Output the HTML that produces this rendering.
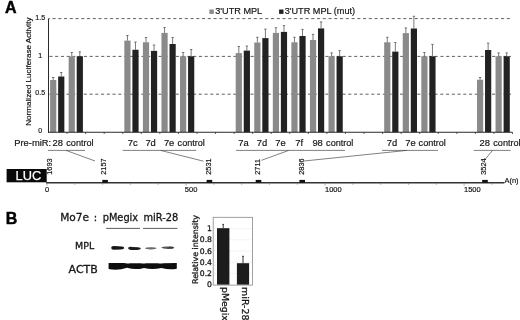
<!DOCTYPE html>
<html lang="en"><head><meta charset="utf-8"><title>Figure</title>
<style>html,body{margin:0;padding:0;background:#fff}svg{display:block;filter:blur(0.35px)}text{font-family:"Liberation Sans",Arial,sans-serif;fill:#151515;stroke:#151515;stroke-width:0.18px}.dv{font-family:"DejaVu Sans","Liberation Sans",sans-serif;stroke-width:0.28px}</style></head><body>
<svg width="520" height="320" viewBox="0 0 520 320">
<defs><filter id="b1" x="-20%" y="-100%" width="140%" height="300%"><feGaussianBlur stdDeviation="0.6"/></filter><filter id="b2" x="-20%" y="-100%" width="140%" height="300%"><feGaussianBlur stdDeviation="0.5"/></filter></defs>
<rect width="520" height="320" fill="#fff"/>
<text x="5.1" y="13.4" font-size="16" font-weight="bold" fill="#000" style="fill:#000;stroke:#000;stroke-width:0.45px">A</text>
<text x="5.7" y="223.9" font-size="16" font-weight="bold" fill="#000" style="fill:#000;stroke:#000;stroke-width:0.45px">B</text>
<line x1="48.5" y1="18.6" x2="511" y2="18.6" stroke="#3a3a3a" stroke-width="0.8" stroke-dasharray="3.1 2.65" stroke-dashoffset="1.75"/>
<line x1="48.5" y1="56.4" x2="511" y2="56.4" stroke="#3a3a3a" stroke-width="0.8" stroke-dasharray="3.1 2.65" stroke-dashoffset="4.85"/>
<line x1="48.5" y1="94.2" x2="511" y2="94.2" stroke="#3a3a3a" stroke-width="0.8" stroke-dasharray="3.1 2.65" stroke-dashoffset="5.0"/>
<rect x="50.10" y="80" width="6.2" height="52.25" fill="#8a8a8a"/>
<path d="M53.20 80V77.5M52.00 77.5H54.40" stroke="#585858" stroke-width="0.8" fill="none"/>
<rect x="58.15" y="76.5" width="6.2" height="55.75" fill="#222222"/>
<path d="M61.25 76.5V72.5M60.05 72.5H62.45" stroke="#585858" stroke-width="0.8" fill="none"/>
<rect x="68.66" y="56.25" width="6.2" height="76.00" fill="#8a8a8a"/>
<path d="M71.76 56.25V52.5M70.56 52.5H72.96" stroke="#585858" stroke-width="0.8" fill="none"/>
<rect x="76.71" y="56.25" width="6.2" height="76.00" fill="#222222"/>
<path d="M79.81 56.25V51.9M78.61 51.9H81.01" stroke="#585858" stroke-width="0.8" fill="none"/>
<rect x="124.34" y="40.6" width="6.2" height="91.65" fill="#8a8a8a"/>
<path d="M127.44 40.6V35.5M126.24 35.5H128.64" stroke="#585858" stroke-width="0.8" fill="none"/>
<rect x="132.39" y="49.75" width="6.2" height="82.50" fill="#222222"/>
<path d="M135.49 49.75V42M134.29 42H136.69" stroke="#585858" stroke-width="0.8" fill="none"/>
<rect x="142.90" y="42.25" width="6.2" height="90.00" fill="#8a8a8a"/>
<path d="M146.00 42.25V37.5M144.80 37.5H147.20" stroke="#585858" stroke-width="0.8" fill="none"/>
<rect x="150.95" y="50.9" width="6.2" height="81.35" fill="#222222"/>
<path d="M154.05 50.9V45M152.85 45H155.25" stroke="#585858" stroke-width="0.8" fill="none"/>
<rect x="161.46" y="32.9" width="6.2" height="99.35" fill="#8a8a8a"/>
<path d="M164.56 32.9V27.5M163.36 27.5H165.76" stroke="#585858" stroke-width="0.8" fill="none"/>
<rect x="169.51" y="44" width="6.2" height="88.25" fill="#222222"/>
<path d="M172.61 44V37.5M171.41 37.5H173.81" stroke="#585858" stroke-width="0.8" fill="none"/>
<rect x="180.02" y="56.25" width="6.2" height="76.00" fill="#8a8a8a"/>
<path d="M183.12 56.25V52.5M181.92 52.5H184.32" stroke="#585858" stroke-width="0.8" fill="none"/>
<rect x="188.07" y="56.25" width="6.2" height="76.00" fill="#222222"/>
<path d="M191.17 56.25V49.5M189.97 49.5H192.37" stroke="#585858" stroke-width="0.8" fill="none"/>
<rect x="235.70" y="53.1" width="6.2" height="79.15" fill="#8a8a8a"/>
<path d="M238.80 53.1V46.5M237.60 46.5H240.00" stroke="#585858" stroke-width="0.8" fill="none"/>
<rect x="243.75" y="50.6" width="6.2" height="81.65" fill="#222222"/>
<path d="M246.85 50.6V46M245.65 46H248.05" stroke="#585858" stroke-width="0.8" fill="none"/>
<rect x="254.26" y="42.5" width="6.2" height="89.75" fill="#8a8a8a"/>
<path d="M257.36 42.5V37.25M256.16 37.25H258.56" stroke="#585858" stroke-width="0.8" fill="none"/>
<rect x="262.31" y="38.1" width="6.2" height="94.15" fill="#222222"/>
<path d="M265.41 38.1V29.1M264.21 29.1H266.61" stroke="#585858" stroke-width="0.8" fill="none"/>
<rect x="272.82" y="32.9" width="6.2" height="99.35" fill="#8a8a8a"/>
<path d="M275.92 32.9V27.75M274.72 27.75H277.12" stroke="#585858" stroke-width="0.8" fill="none"/>
<rect x="280.87" y="31.9" width="6.2" height="100.35" fill="#222222"/>
<path d="M283.97 31.9V25.6M282.77 25.6H285.17" stroke="#585858" stroke-width="0.8" fill="none"/>
<rect x="291.38" y="42.25" width="6.2" height="90.00" fill="#8a8a8a"/>
<path d="M294.48 42.25V37.25M293.28 37.25H295.68" stroke="#585858" stroke-width="0.8" fill="none"/>
<rect x="299.43" y="36" width="6.2" height="96.25" fill="#222222"/>
<path d="M302.53 36V29.4M301.33 29.4H303.73" stroke="#585858" stroke-width="0.8" fill="none"/>
<rect x="309.94" y="40" width="6.2" height="92.25" fill="#8a8a8a"/>
<path d="M313.04 40V34.4M311.84 34.4H314.24" stroke="#585858" stroke-width="0.8" fill="none"/>
<rect x="317.99" y="28.4" width="6.2" height="103.85" fill="#222222"/>
<path d="M321.09 28.4V21.9M319.89 21.9H322.29" stroke="#585858" stroke-width="0.8" fill="none"/>
<rect x="328.50" y="56.25" width="6.2" height="76.00" fill="#8a8a8a"/>
<path d="M331.60 56.25V52.9M330.40 52.9H332.80" stroke="#585858" stroke-width="0.8" fill="none"/>
<rect x="336.55" y="56.25" width="6.2" height="76.00" fill="#222222"/>
<path d="M339.65 56.25V50.6M338.45 50.6H340.85" stroke="#585858" stroke-width="0.8" fill="none"/>
<rect x="384.18" y="42.25" width="6.2" height="90.00" fill="#8a8a8a"/>
<path d="M387.28 42.25V37.25M386.08 37.25H388.48" stroke="#585858" stroke-width="0.8" fill="none"/>
<rect x="392.23" y="51.6" width="6.2" height="80.65" fill="#222222"/>
<path d="M395.33 51.6V42.5M394.13 42.5H396.53" stroke="#585858" stroke-width="0.8" fill="none"/>
<rect x="402.74" y="33.1" width="6.2" height="99.15" fill="#8a8a8a"/>
<path d="M405.84 33.1V27.9M404.64 27.9H407.04" stroke="#585858" stroke-width="0.8" fill="none"/>
<rect x="410.79" y="28.5" width="6.2" height="103.75" fill="#222222"/>
<path d="M413.89 28.5V16.25M412.69 16.25H415.09" stroke="#585858" stroke-width="0.8" fill="none"/>
<rect x="421.30" y="56.25" width="6.2" height="76.00" fill="#8a8a8a"/>
<path d="M424.40 56.25V52.5M423.20 52.5H425.60" stroke="#585858" stroke-width="0.8" fill="none"/>
<rect x="429.35" y="56.25" width="6.2" height="76.00" fill="#222222"/>
<path d="M432.45 56.25V44.4M431.25 44.4H433.65" stroke="#585858" stroke-width="0.8" fill="none"/>
<rect x="476.98" y="79.75" width="6.2" height="52.50" fill="#8a8a8a"/>
<path d="M480.08 79.75V77.5M478.88 77.5H481.28" stroke="#585858" stroke-width="0.8" fill="none"/>
<rect x="485.03" y="50" width="6.2" height="82.25" fill="#222222"/>
<path d="M488.13 50V43.1M486.93 43.1H489.33" stroke="#585858" stroke-width="0.8" fill="none"/>
<rect x="495.54" y="56.25" width="6.2" height="76.00" fill="#8a8a8a"/>
<path d="M498.64 56.25V52.9M497.44 52.9H499.84" stroke="#585858" stroke-width="0.8" fill="none"/>
<rect x="503.59" y="56.25" width="6.2" height="76.00" fill="#222222"/>
<path d="M506.69 56.25V52.9M505.49 52.9H507.89" stroke="#585858" stroke-width="0.8" fill="none"/>
<line x1="48.5" y1="18.6" x2="48.5" y2="132.75" stroke="#2a2a2a" stroke-width="1"/>
<line x1="48.0" y1="132.25" x2="512.5" y2="132.25" stroke="#2a2a2a" stroke-width="1"/>
<path d="M67.06 132.25v1.7M85.62 132.25v1.7M104.18 132.25v1.7M122.74 132.25v1.7M141.30 132.25v1.7M159.86 132.25v1.7M178.42 132.25v1.7M196.98 132.25v1.7M215.54 132.25v1.7M234.10 132.25v1.7M252.66 132.25v1.7M271.22 132.25v1.7M289.78 132.25v1.7M308.34 132.25v1.7M326.90 132.25v1.7M345.46 132.25v1.7M364.02 132.25v1.7M382.58 132.25v1.7M401.14 132.25v1.7M419.70 132.25v1.7M438.26 132.25v1.7M456.82 132.25v1.7M475.38 132.25v1.7M493.94 132.25v1.7M512.50 132.25v1.7" stroke="#2a2a2a" stroke-width="0.8" fill="none"/>
<text x="40.2" y="19.8" font-size="7" text-anchor="middle">1.5</text>
<text x="40.2" y="57.6" font-size="7" text-anchor="middle">1</text>
<text x="40.2" y="95.4" font-size="7" text-anchor="middle">0.5</text>
<text x="40.2" y="133.4" font-size="7" text-anchor="middle">0</text>
<text transform="translate(30.6 125.8) rotate(-90)" font-size="8" textLength="108.3" lengthAdjust="spacingAndGlyphs">Normalized Luciferase Activity</text>
<rect x="209.4" y="9.5" width="4.4" height="4.4" fill="#8a8a8a"/>
<text x="215.3" y="14.1" font-size="9.15">3'UTR MPL</text>
<rect x="279.1" y="9.5" width="4.4" height="4.4" fill="#222222"/>
<text x="284.7" y="14.1" font-size="9.15">3'UTR MPL (mut)</text>
<text x="14.2" y="145.7" font-size="9.4">Pre-miR:</text>
<text x="57.8" y="145.7" font-size="9.4" text-anchor="middle">28</text>
<text x="132.8" y="145.7" font-size="9.4" text-anchor="middle">7c</text>
<text x="150.6" y="145.7" font-size="9.4" text-anchor="middle">7d</text>
<text x="169.1" y="145.7" font-size="9.4" text-anchor="middle">7e</text>
<text x="243.4" y="145.7" font-size="9.4" text-anchor="middle">7a</text>
<text x="261.9" y="145.7" font-size="9.4" text-anchor="middle">7d</text>
<text x="280.5" y="145.7" font-size="9.4" text-anchor="middle">7e</text>
<text x="299.1" y="145.7" font-size="9.4" text-anchor="middle">7f</text>
<text x="317.6" y="145.7" font-size="9.4" text-anchor="middle">98</text>
<text x="391.9" y="145.7" font-size="9.4" text-anchor="middle">7d</text>
<text x="410.4" y="145.7" font-size="9.4" text-anchor="middle">7e</text>
<text x="484.7" y="145.7" font-size="9.4" text-anchor="middle">28</text>
<text x="66.3" y="145.7" font-size="9.4" textLength="27.3" lengthAdjust="spacingAndGlyphs">control</text>
<text x="177.6" y="145.7" font-size="9.4" textLength="27.3" lengthAdjust="spacingAndGlyphs">control</text>
<text x="326.1" y="145.7" font-size="9.4" textLength="27.3" lengthAdjust="spacingAndGlyphs">control</text>
<text x="418.6" y="145.7" font-size="9.4" textLength="27.3" lengthAdjust="spacingAndGlyphs">control</text>
<text x="493.3" y="145.7" font-size="9.4" textLength="27.3" lengthAdjust="spacingAndGlyphs">control</text>
<path d="M48 150.4H85M122.6 150.4H196.3M236 150.4H345M382 150.4H438M473.8 150.4H510.6M66 150.4L95 161M160.5 150.4L203.5 161.2M288.8 150.4L261.5 160.3M407 150.4L304 161M492.5 150.4L485 159.5" stroke="#4a4a4a" stroke-width="0.7" fill="none"/>
<rect x="6.6" y="169" width="40.1" height="13.3" fill="#0a0a0a"/>
<text x="15.6" y="179.9" font-size="12.8" fill="#fff" style="fill:#fff;stroke:#fff;stroke-width:0.25px">LUC</text>
<line x1="46" y1="182.8" x2="504.3" y2="182.8" stroke="#333" stroke-width="1.4"/>
<path d="M47.00 183v2.6M74.81 183v1.8M102.62 183v1.8M130.43 183v1.8M158.24 183v1.8M186.05 183v2.6M213.86 183v1.8M241.67 183v1.8M269.48 183v1.8M297.29 183v1.8M325.10 183v2.6M352.91 183v1.8M380.72 183v1.8M408.53 183v1.8M436.34 183v1.8M464.15 183v2.6M491.96 183v1.8" stroke="#777" stroke-width="0.6" fill="none"/>
<text x="44.9" y="192.3" font-size="7.5">0</text>
<text x="184.8" y="192.3" font-size="7.5">500</text>
<text x="325.0" y="192.3" font-size="7.5">1000</text>
<text x="464.0" y="192.3" font-size="7.5">1500</text>
<text x="504.6" y="182.9" font-size="7.4">A(n)</text>
<text transform="translate(52.0 174.8) rotate(-90)" font-size="7.4">1693</text>
<rect x="102.3" y="179.9" width="5.6" height="2.8" fill="#111"/>
<text transform="translate(105.7 174.8) rotate(-90)" font-size="7.4">2157</text>
<rect x="206.6" y="179.9" width="5.6" height="2.8" fill="#111"/>
<text transform="translate(210.9 174.8) rotate(-90)" font-size="7.4">2531</text>
<rect x="255.7" y="179.9" width="5.6" height="2.8" fill="#111"/>
<text transform="translate(260.4 174.8) rotate(-90)" font-size="7.4">2711</text>
<rect x="299.4" y="179.9" width="5.6" height="2.8" fill="#111"/>
<text transform="translate(303.7 174.8) rotate(-90)" font-size="7.4">2836</text>
<rect x="482.2" y="179.9" width="5.6" height="2.8" fill="#111"/>
<text transform="translate(486.3 174.8) rotate(-90)" font-size="7.4">3524</text>
<text class="dv" x="60.2" y="221" font-size="10.1" textLength="28.9" lengthAdjust="spacingAndGlyphs">Mo7e</text>
<text class="dv" x="93.8" y="221" font-size="10.1">:</text>
<text class="dv" x="102.7" y="221" font-size="9.8">pMegix</text>
<text class="dv" x="143.5" y="221" font-size="9.85">miR-28</text>
<path d="M106.2 228.4H140M143 228.4H177.5" stroke="#333" stroke-width="0.8" fill="none"/>
<text class="dv" x="75.1" y="248.5" font-size="8.9" textLength="19.2" lengthAdjust="spacingAndGlyphs">MPL</text>
<text class="dv" x="68.6" y="273.2" font-size="9.8" textLength="29.2" lengthAdjust="spacingAndGlyphs">ACTB</text>
<g filter="url(#b1)">
<path d="M111.2 247.8Q111.3 246.1 113.5 246.1L122 246.5Q124.4 246.8 124.2 248.1Q124 249.5 121 249.6L113.5 249.7Q111.2 249.6 111.2 247.8Z" fill="#141414"/>
<path d="M128 248Q128.6 246.7 132 246.9L138 247.2Q140.9 247.5 140.8 248.6Q140.5 250 137 250.1L131 250Q128 249.7 128 248Z" fill="#1a1a1a"/>
<path d="M145 248.3Q146 247.2 151 247.3Q155.5 247.2 156.6 248.1Q156.5 249.3 151 249.4Q146 249.5 145 248.3Z" fill="#6a6a6a"/>
<path d="M161 247.5Q163 246.4 168 246.5Q173 246.3 174.3 247.5Q174.2 248.9 169 248.9Q163 249.1 161 247.5Z" fill="#565656"/>
<rect x="168.5" y="246.8" width="5" height="1.7" rx="0.8" fill="#3a3a3a"/>
</g>
<g filter="url(#b2)">
<path d="M108.6 263.1L124 263.1Q127 263.9 130 263.3L141 263.2Q143.5 263.8 146 263.2L158 263.2Q160.5 263.7 163 263.2L176.8 263L176.8 268.8Q169 270.2 161.5 267.9Q152 270.2 144 267.9Q135.5 270.4 127 267.7Q118 270.8 108.6 269Z" fill="#0e0e0e"/>
</g>
<rect x="213.2" y="217.3" width="39.3" height="67.8" fill="#fff" stroke="#888" stroke-width="0.8"/>
<path d="M213.6 228.6H252.1M213.6 239.8H252.1M213.6 251.0H252.1M213.6 262.2H252.1M213.6 273.4H252.1" stroke="#ececec" stroke-width="0.6" fill="none"/>
<rect x="217" y="228.2" width="12.4" height="56.4" fill="#1c1c1c"/>
<rect x="236.9" y="263.2" width="12.2" height="21.4" fill="#1c1c1c"/>
<path d="M223.2 228.2V224.4M222.4 224.4H224M243 263.2V256.3M242.1 256.3H243.9" stroke="#222" stroke-width="0.9" fill="none"/>
<text class="dv" x="212" y="231.2" font-size="7.7" text-anchor="end">1</text>
<text class="dv" x="212" y="242.4" font-size="7.7" text-anchor="end">0.8</text>
<text class="dv" x="212" y="253.6" font-size="7.7" text-anchor="end">0.6</text>
<text class="dv" x="212" y="264.8" font-size="7.7" text-anchor="end">0.4</text>
<text class="dv" x="212" y="276.0" font-size="7.7" text-anchor="end">0.2</text>
<text class="dv" x="212" y="287.0" font-size="7.7" text-anchor="end">0</text>
<text class="dv" transform="translate(198 284) rotate(-90)" font-size="7.9" textLength="69" lengthAdjust="spacingAndGlyphs">Relative intensity</text>
<text class="dv" transform="translate(222.3 287) rotate(90)" font-size="9.4">pMegix</text>
<text class="dv" transform="translate(242.2 287) rotate(90)" font-size="9.5">miR-28</text>
</svg></body></html>
